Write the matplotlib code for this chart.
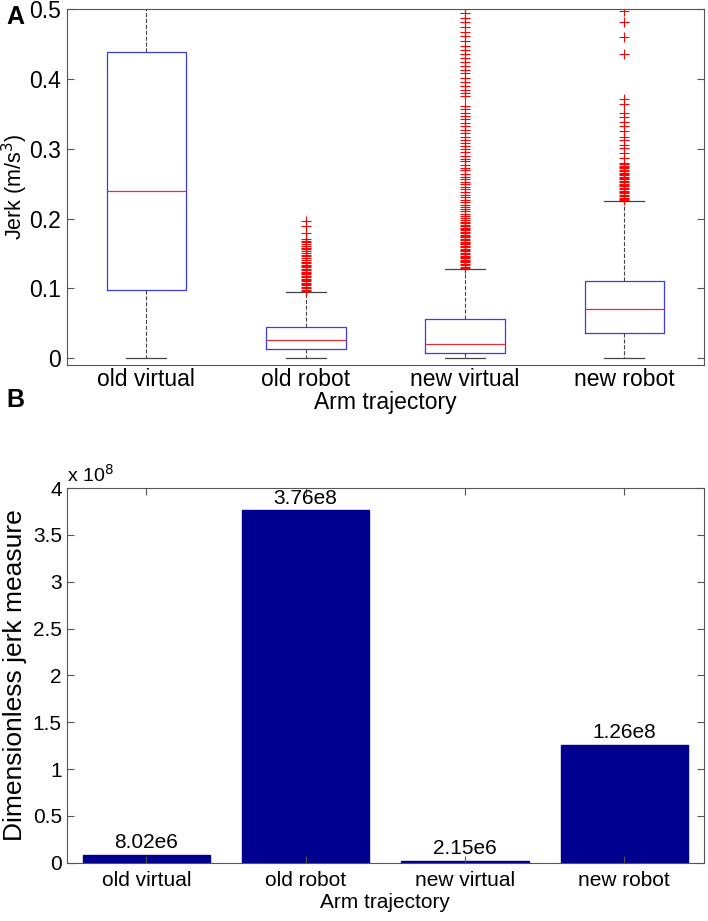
import matplotlib
matplotlib.use("Agg")
import matplotlib.pyplot as plt
from matplotlib import font_manager

# categories
labels = ['old virtual', 'old robot', 'new virtual', 'new robot']

# panel A: box statistics (m/s^3)
jerk_whislo = [0.0, 0.0, 0.0, 0.0]
jerk_q1 = [0.098, 0.0125, 0.0076, 0.036]
jerk_med = [0.240, 0.0254, 0.0205, 0.070]
jerk_q3 = [0.439, 0.045, 0.0555, 0.111]
jerk_whishi = [0.60, 0.095, 0.128, 0.225]

fliers_old_virtual = []
fliers_old_robot = [0.096, 0.098, 0.100, 0.102, 0.104, 0.106, 0.108, 0.110, 0.112,
                    0.114, 0.116, 0.118, 0.120, 0.122, 0.124, 0.126, 0.128, 0.130,
                    0.132, 0.134, 0.136, 0.138, 0.141, 0.143, 0.146, 0.148, 0.151,
                    0.153, 0.156, 0.158, 0.161, 0.163, 0.166, 0.168, 0.171, 0.179,
                    0.189, 0.197]
fliers_new_virtual = [0.129, 0.131, 0.133, 0.135, 0.137, 0.139, 0.141, 0.143, 0.145,
                      0.147, 0.149, 0.151, 0.153, 0.155, 0.157, 0.159, 0.161, 0.163,
                      0.165, 0.167, 0.169, 0.171, 0.173, 0.175, 0.177, 0.179, 0.181,
                      0.183, 0.185, 0.187, 0.189, 0.191, 0.193, 0.195, 0.198, 0.201,
                      0.204, 0.207, 0.211, 0.214, 0.217, 0.220, 0.224, 0.227, 0.231,
                      0.234, 0.238, 0.242, 0.245, 0.249, 0.253, 0.257, 0.260, 0.264,
                      0.269, 0.273, 0.277, 0.282, 0.286, 0.290, 0.295, 0.299, 0.304,
                      0.308, 0.313, 0.317, 0.322, 0.327, 0.332, 0.337, 0.342, 0.347,
                      0.352, 0.357, 0.362, 0.375, 0.380, 0.385, 0.390, 0.396, 0.402,
                      0.408, 0.413, 0.418, 0.424, 0.430, 0.436, 0.442, 0.448, 0.455,
                      0.462, 0.468, 0.475, 0.482, 0.488, 0.495, 0.500]
fliers_new_robot = [0.226, 0.228, 0.230, 0.232, 0.234, 0.236, 0.238, 0.240, 0.242,
                    0.244, 0.246, 0.248, 0.250, 0.252, 0.254, 0.256, 0.258, 0.260,
                    0.262, 0.264, 0.266, 0.268, 0.270, 0.272, 0.274, 0.276, 0.278,
                    0.280, 0.287, 0.294, 0.301, 0.305, 0.313, 0.317, 0.325, 0.332,
                    0.339, 0.346, 0.351, 0.364, 0.372, 0.436, 0.461, 0.482, 0.497]
jerk_fliers = [fliers_old_virtual, fliers_old_robot, fliers_new_virtual, fliers_new_robot]

# panel B: dimensionless jerk measure
djm_values = [8.02e6, 3.76e8, 2.15e6, 1.26e8]
djm_ticks = [0, 0.5e8, 1e8, 1.5e8, 2e8, 2.5e8, 3e8, 3.5e8, 4e8]
djm_ticklabels = ['0', '0.5', '1', '1.5', '2', '2.5', '3', '3.5', '4']

plt.rcParams['font.family'] = ['Liberation Sans', 'DejaVu Sans']
spine_col = '#555555'

# the lower panel text looks condensed, use a narrow face if there is one
installed = {f.name for f in font_manager.fontManager.ttflist}
if 'Liberation Sans Narrow' in installed:
    narrow, fs_b, fs_by = ['Liberation Sans Narrow', 'DejaVu Sans'], 18, 22
elif 'DejaVu Sans Condensed' in installed:
    narrow, fs_b, fs_by = ['DejaVu Sans Condensed', 'DejaVu Sans'], 15, 19
else:
    narrow, fs_b, fs_by = ['Liberation Sans', 'DejaVu Sans'], 15, 19

fig = plt.figure(figsize=(7.08, 9.21), dpi=100)
W, H = 708, 921
ax1 = fig.add_axes([66.7 / W, 1 - 365 / H, (704 - 66.7) / W, (365 - 9.3) / H])
ax2 = fig.add_axes([66.7 / W, 1 - 862.7 / H, (704 - 66.7) / W, (862.7 - 488) / H])

pos = [1, 2, 3, 4]

# ---- panel A ----
stats = []
for i in range(len(labels)):
    stats.append(dict(whislo=jerk_whislo[i], q1=jerk_q1[i], med=jerk_med[i],
                      q3=jerk_q3[i], whishi=jerk_whishi[i], fliers=jerk_fliers[i]))
ax1.bxp(stats, positions=pos, widths=0.5, capwidths=0.25, showfliers=True,
        boxprops=dict(color='#3a3af0', lw=0.9),
        medianprops=dict(color='#e03030', lw=0.9),
        whiskerprops=dict(color='#444444', ls='--', lw=0.8),
        capprops=dict(color='#444444', lw=0.9),
        flierprops=dict(marker='+', markeredgecolor='red', markersize=7,
                        markeredgewidth=0.8, linestyle='none'))
ax1.set_xlim(0.5, 4.5)
ax1.set_ylim(-0.01, 0.5)
ax1.set_yticks([0, 0.1, 0.2, 0.3, 0.4, 0.5])
ax1.set_yticklabels(['0', '0.1', '0.2', '0.3', '0.4', '0.5'])
ax1.set_xticks(pos)
ax1.set_xticklabels(labels)
ax1.tick_params(axis='y', direction='in', right=True, length=5, labelsize=16.5,
                color=spine_col, pad=4)
ax1.tick_params(axis='x', length=0, labelsize=16.5, pad=2)
ax1.set_ylabel('Jerk (m/s$^3$)', fontsize=15.5)
ax1.yaxis.set_label_coords(-0.058, 0.5)
ax1.set_xlabel('Arm trajectory', fontsize=16.5, labelpad=0)
for s in ax1.spines.values():
    s.set_color(spine_col)
fig.text(6 / W, 1 - 17 / H, 'A', fontsize=18, fontweight='bold', va='center')

# ---- panel B ----
ax2.bar(pos, djm_values, width=0.8, color='#00008f', edgecolor='#00008f')
for x, v in zip(pos, djm_values):
    m, e = f'{v:.2e}'.split('e')
    ax2.annotate(f'{m}e{int(e)}', (x, v), xytext=(0, 2), textcoords='offset points',
                 ha='center', va='bottom', fontsize=fs_b, family=narrow)
ax2.set_xlim(0.5, 4.5)
ax2.set_ylim(0, 4e8)
ax2.set_yticks(djm_ticks)
ax2.set_yticklabels(djm_ticklabels, family=narrow)
ax2.set_xticks(pos)
ax2.set_xticklabels(labels, family=narrow)
ax2.tick_params(axis='both', direction='in', right=True, top=True, length=5,
                labelsize=fs_b, color=spine_col)
ax2.tick_params(axis='x', pad=6)
ax2.set_ylabel('Dimensionless jerk measure', fontsize=fs_by, family=narrow, labelpad=4)
ax2.set_xlabel('Arm trajectory', fontsize=fs_b, family=narrow, labelpad=2)
ax2.text(0.0, 1.005, r'x 10$^8$', transform=ax2.transAxes, fontsize=fs_b - 1,
         family=narrow, ha='left', va='bottom')
for s in ax2.spines.values():
    s.set_color(spine_col)
fig.text(6 / W, 1 - 400 / H, 'B', fontsize=18, fontweight='bold', va='center')

fig.savefig('out.png', dpi=100)
